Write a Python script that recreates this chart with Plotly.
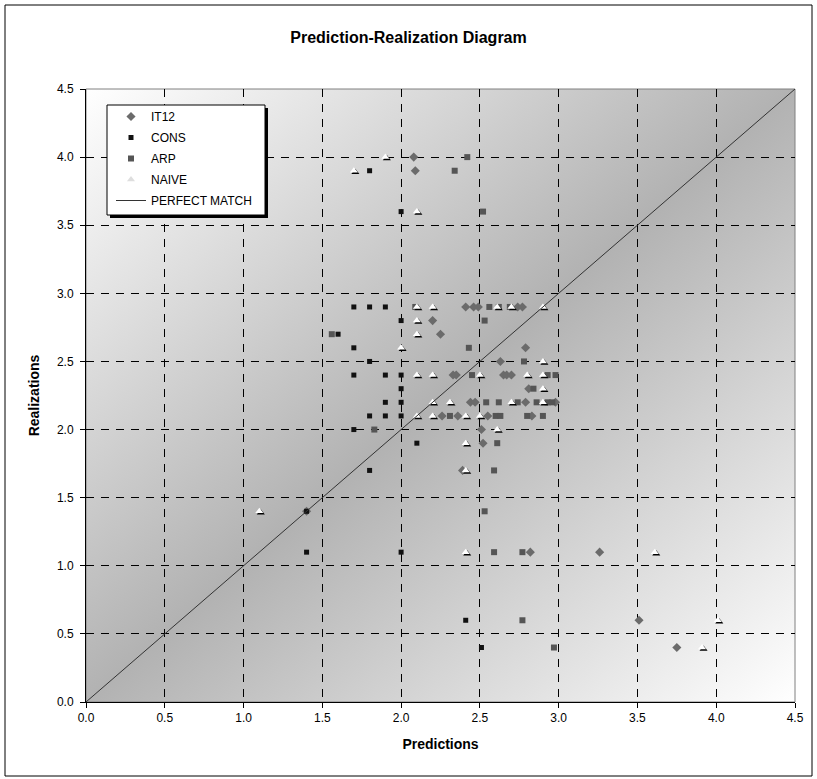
import base64
import plotly.graph_objects as go

# ---------------- data ----------------
it12_pred = [2.08, 2.09, 2.41, 2.46, 2.49, 2.74, 2.77, 2.20, 2.25, 2.79, 2.63,
             2.33, 2.35, 2.65, 2.67, 2.70, 2.81, 2.44, 2.47, 2.79, 2.98,
             2.26, 2.36, 2.55, 2.83, 2.51, 2.52, 2.39, 1.40, 2.82, 3.26, 3.51, 3.75]
it12_real = [4.0, 3.9, 2.9, 2.9, 2.9, 2.9, 2.9, 2.8, 2.7, 2.6, 2.5,
             2.4, 2.4, 2.4, 2.4, 2.4, 2.3, 2.2, 2.2, 2.2, 2.2,
             2.1, 2.1, 2.1, 2.1, 2.0, 1.9, 1.7, 1.4, 1.1, 1.1, 0.6, 0.4]

cons_pred = [1.8, 2.0, 1.7, 1.8, 1.9, 2.0, 1.6, 1.7, 1.8, 1.7, 1.9, 2.0,
             2.0, 1.9, 2.0, 1.8, 1.9, 2.0, 1.7, 2.1, 1.8, 1.4, 1.4, 2.0, 2.41, 2.51]
cons_real = [3.9, 3.6, 2.9, 2.9, 2.9, 2.8, 2.7, 2.6, 2.5, 2.4, 2.4, 2.4,
             2.3, 2.2, 2.2, 2.1, 2.1, 2.1, 2.0, 1.9, 1.7, 1.4, 1.1, 1.1, 0.6, 0.4]

arp_pred = [2.42, 2.34, 2.52, 2.09, 2.56, 2.62, 2.69, 1.56, 2.53, 2.43, 2.78,
            2.45, 2.93, 2.98, 2.84, 2.54, 2.62, 2.74, 2.86, 2.93, 2.96,
            2.31, 2.60, 2.63, 2.80, 2.90, 1.83, 2.61, 2.59, 2.53, 2.59, 2.77, 2.77, 2.97]
arp_real = [4.0, 3.9, 3.6, 2.9, 2.9, 2.9, 2.9, 2.7, 2.8, 2.6, 2.5,
            2.4, 2.4, 2.4, 2.3, 2.2, 2.2, 2.2, 2.2, 2.2, 2.2,
            2.1, 2.1, 2.1, 2.1, 2.1, 2.0, 1.9, 1.7, 1.4, 1.1, 1.1, 0.6, 0.4]

naive_pred = [1.7, 1.9, 2.1, 2.1, 2.2, 2.61, 2.7, 2.9, 2.1, 2.1, 2.0, 2.9,
              2.1, 2.2, 2.5, 2.8, 2.9, 2.9, 2.2, 2.31, 2.7, 2.9,
              2.1, 2.2, 2.41, 2.5, 2.61, 2.41, 2.41, 1.1, 2.41, 3.61, 4.01, 3.91]
naive_real = [3.9, 4.0, 3.6, 2.9, 2.9, 2.9, 2.9, 2.9, 2.8, 2.7, 2.6, 2.5,
              2.4, 2.4, 2.4, 2.4, 2.4, 2.3, 2.2, 2.2, 2.2, 2.2,
              2.1, 2.1, 2.1, 2.1, 2.0, 1.9, 1.7, 1.4, 1.1, 1.1, 0.6, 0.4]

match_x = [0.0, 4.5]
match_y = [0.0, 4.5]

tick_vals = [0.0, 0.5, 1.0, 1.5, 2.0, 2.5, 3.0, 3.5, 4.0, 4.5]
tick_text = ["0.0", "0.5", "1.0", "1.5", "2.0", "2.5", "3.0", "3.5", "4.0", "4.5"]

# ---------------- geometry ----------------
W, H = 817, 779
L, R, T, B = 86, 795, 89, 702           # plot area in pixels
pw, ph = R - L, B - T
FONT = "Liberation Sans, Arial, sans-serif"

def px2paper_x(px):
    return (px - L) / pw

def px2paper_y(py):
    return (B - py) / ph

# shadow offset for the NAIVE triangles (pixels -> data units)
sdx = 1.5 * 4.5 / pw
sdy = 1.5 * 4.5 / ph

fig = go.Figure()

fig.add_trace(go.Scatter(
    x=it12_pred, y=it12_real, mode="markers", name="IT12", legendgroup="a",
    marker=dict(symbol="diamond", size=7, color="#6b6b6b", line=dict(width=0))))
fig.add_trace(go.Scatter(
    x=cons_pred, y=cons_real, mode="markers", name="CONS", legendgroup="b",
    marker=dict(symbol="square", size=5, color="#111111", line=dict(width=0))))
fig.add_trace(go.Scatter(
    x=arp_pred, y=arp_real, mode="markers", name="ARP", legendgroup="c",
    marker=dict(symbol="square", size=6, color="#555555", line=dict(width=0))))
# NAIVE: black shadow + white triangle
fig.add_trace(go.Scatter(
    x=[v + sdx for v in naive_pred], y=[v - sdy for v in naive_real],
    mode="markers", showlegend=False, legendgroup="d", hoverinfo="skip",
    marker=dict(symbol="triangle-up", size=7, color="#000000", line=dict(width=0))))
fig.add_trace(go.Scatter(
    x=naive_pred, y=naive_real, mode="markers", showlegend=False, legendgroup="d",
    marker=dict(symbol="triangle-up", size=7, color="#ffffff", line=dict(width=0))))
fig.add_trace(go.Scatter(
    x=[None], y=[None], mode="markers", name="NAIVE", legendgroup="d",
    marker=dict(symbol="triangle-up", size=7, color="#dedede", line=dict(width=0))))
fig.add_trace(go.Scatter(
    x=match_x, y=match_y, mode="lines", name="PERFECT MATCH", legendgroup="e",
    line=dict(color="#333333", width=1)))

# gradient background for the plot area
svg = ("<svg xmlns='http://www.w3.org/2000/svg' viewBox='0 0 100 100' "
       "width='100' height='100' preserveAspectRatio='none'>"
       "<defs><linearGradient id='g' x1='0' y1='0' x2='1' y2='1'>"
       "<stop offset='0' stop-color='#ffffff'/>"
       "<stop offset='0.5' stop-color='#b2b2b2'/>"
       "<stop offset='1' stop-color='#ffffff'/>"
       "</linearGradient></defs>"
       "<rect x='0' y='0' width='100' height='100' fill='url(#g)'/></svg>")
src = "data:image/svg+xml;base64," + base64.b64encode(svg.encode()).decode()

axis_common = dict(
    range=[0, 4.5], tickvals=tick_vals, ticktext=tick_text,
    showgrid=True, gridcolor="#000000", gridwidth=1, griddash="8px,7px",
    showline=True, linecolor="#000000", linewidth=1, zeroline=False,
    ticks="outside", ticklen=5, tickcolor="#000000", tickwidth=1,
    tickfont=dict(family=FONT, size=12, color="#000000"),
    fixedrange=True,
)

fig.update_layout(
    width=W, height=H, autosize=False,
    margin=dict(l=L, r=W - R, t=T, b=H - B, pad=0),
    paper_bgcolor="#ffffff", plot_bgcolor="#ffffff",
    title=dict(text="<b>Prediction-Realization Diagram</b>", xref="container",
               x=0.5, xanchor="center", yref="container", y=1 - 37 / H,
               yanchor="middle", font=dict(family=FONT, size=16, color="#000000")),
    xaxis=dict(**axis_common,
               title=dict(text="<b>Predictions</b>", standoff=14,
                          font=dict(family=FONT, size=14, color="#000000"))),
    yaxis=dict(**axis_common, ticklabelstandoff=4,
               title=dict(text="<b>Realizations</b>", standoff=14,
                          font=dict(family=FONT, size=14, color="#000000"))),
    legend=dict(x=px2paper_x(111), y=px2paper_y(102), xanchor="left", yanchor="top",
                bgcolor="rgba(0,0,0,0)", borderwidth=0,
                font=dict(family=FONT, size=12, color="#000000"),
                tracegroupgap=2, itemwidth=30, traceorder="grouped"),
    images=[dict(source=src, xref="paper", yref="paper", x=0, y=1, sizex=1, sizey=1,
                 xanchor="left", yanchor="top", sizing="stretch", layer="below")],
    shapes=[
        # plot area border (gray)
        dict(type="rect", xref="paper", yref="paper", x0=0, y0=0, x1=1, y1=1,
             line=dict(color="#808080", width=1), fillcolor="rgba(0,0,0,0)", layer="below"),
        # legend shadow
        dict(type="rect", xref="paper", yref="paper",
             x0=px2paper_x(110), x1=px2paper_x(268), y0=px2paper_y(218), y1=px2paper_y(108),
             line=dict(width=0), fillcolor="#000000", layer="above"),
        # legend box
        dict(type="rect", xref="paper", yref="paper",
             x0=px2paper_x(107), x1=px2paper_x(265), y0=px2paper_y(215), y1=px2paper_y(105),
             line=dict(color="#000000", width=1), fillcolor="#ffffff", layer="above"),
        # outer chart border
        dict(type="rect", xref="paper", yref="paper",
             x0=px2paper_x(5), x1=px2paper_x(812), y0=px2paper_y(776), y1=px2paper_y(5),
             line=dict(color="#000000", width=1), fillcolor="rgba(0,0,0,0)", layer="above"),
    ],
    showlegend=True,
)

fig.write_html("out.html")
